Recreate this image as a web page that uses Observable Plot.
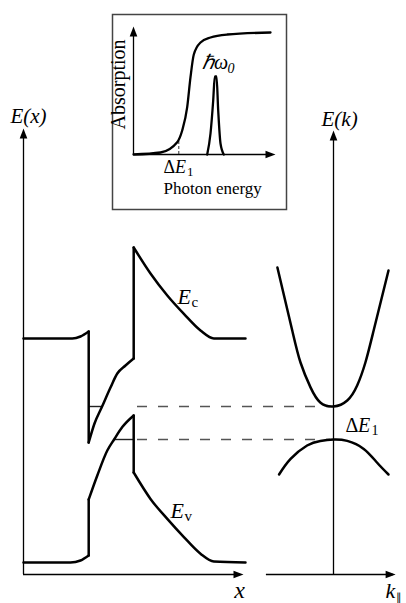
<!DOCTYPE html>
<html>
<head>
<meta charset="utf-8">
<script src="https://cdn.jsdelivr.net/npm/d3@7"></script>
<script src="https://cdn.jsdelivr.net/npm/@observablehq/plot@0.6"></script>
<style>
  html, body { margin: 0; padding: 0; background: #fff; }
  #fig { position: relative; width: 406px; height: 603px; overflow: hidden; background: #fff; }
  #fig svg { position: absolute; }
  #fig svg text { font-family: "Liberation Serif", "Times New Roman", serif; }
</style>
</head>
<body>
<div id="fig"></div>
<script>
// ---- Real-space band edges across the structure (position, energy in eV) ----
// Each band is split into smooth parts; consecutive parts are joined by abrupt steps.
const ecPos  = [0, 24.4, 28.5, 32.6,   32.6, 35.5, 39.3, 43.5, 46.9, 51, 55.1,   55.1, 63.5, 71.9, 80.2, 88.5, 95.2, 111];
const ecE    = [1.12, 1.12, 1.13, 1.155,   0.60, 0.695, 0.78, 0.875, 0.945, 0.985, 1.02,   1.575, 1.445, 1.335, 1.243, 1.16, 1.12, 1.12];
const ecPart = [0, 0, 0, 0,   1, 1, 1, 1, 1, 1, 1,   2, 2, 2, 2, 2, 2, 2];

const evPos  = [0, 23.5, 28.5, 32.6,   32.6, 36.9, 41.9, 45.3, 49.4, 55.1,   55.1, 63.5, 71.9, 80.2, 88.5, 95.2, 111];
const evE    = [0, 0, 0.01, 0.035,   0.315, 0.435, 0.56, 0.615, 0.677, 0.735,   0.45, 0.318, 0.218, 0.127, 0.044, 0.005, 0];
const evPart = [0, 0, 0, 0,   1, 1, 1, 1, 1, 1,   2, 2, 2, 2, 2, 2, 2];

// Confined levels: electron level in the left well, hole level in the right well
const levelE       = [0.78, 0.615];
const levelFromPos = [32.6, 45.3];
const levelToPos   = [39.3, 55.1];
const levelDashFrom = 57;     // dashed continuation towards the E(k) axis
const levelDashTo   = 153.5;

// ---- Dispersion near the zone centre (k, energy in eV) ----
const cbK = [-1.02, -0.75, -0.6, -0.42, -0.24, 0, 0.25, 0.43, 0.58, 0.73, 1.0];
const cbE = [1.475, 1.16, 1.0, 0.877, 0.80, 0.78, 0.81, 0.885, 1.0, 1.16, 1.46];
const vbK = [-0.99, -0.78, -0.48, -0.24, 0, 0.25, 0.55, 0.79, 1.0];
const vbE = [0.44, 0.518, 0.585, 0.608, 0.615, 0.608, 0.568, 0.50, 0.44];

// ---- Absorption spectrum and emission line (relative photon energy, relative level) ----
const absEnergy = [0, 0.27, 0.437, 0.487, 0.537, 0.57, 0.603, 0.67, 0.77, 0.937, 1.37];
const absLevel  = [0, 0.02, 0.123, 0.24, 0.473, 0.773, 1.0, 1.12, 1.17, 1.2, 1.22];
const peakEnergy = [0.737, 0.77, 0.797, 0.813, 0.83, 0.847, 0.87, 0.903];
const peakLevel  = [0, 0.21, 0.54, 0.78, 0.78, 0.44, 0.11, 0];
const gapEnergy = 0.453;   // ΔE1 marked on the spectrum
const gapLevel  = 0.15;

// Axis extents (data units)
const posAxisEnd = 110, eAxisBottom = -0.06, eAxisTopLeft = 2.17, eAxisTopRight = 2.16;
const kAxisStart = -1.22, kAxisEnd = 1.13;
const specAxisEnd = 1.42, absAxisTop = 1.28;

// Filled arrowheads (tip at the anchor point)
const arrowUp = { draw(c) { c.moveTo(0, 0); c.lineTo(-3.8, 10); c.lineTo(3.8, 10); c.closePath(); } };
const arrowRight = { draw(c) { c.moveTo(0, 0); c.lineTo(-10, -3.8); c.lineTo(-10, 3.8); c.closePath(); } };

const serif = '"Liberation Serif", "Times New Roman", serif';
const bandStroke = 2.5, axisStroke = 1.3;

function bandRows(pos, en, part) {
  const pts = pos.map((x, i) => ({x, e: en[i], seg: "p" + part[i]}));
  const steps = [];
  for (let i = 1; i < pts.length; i++) {
    if (pts[i].seg !== pts[i - 1].seg) {
      steps.push({x: pts[i - 1].x, e: pts[i - 1].e, seg: "s" + i}, {x: pts[i].x, e: pts[i].e, seg: "s" + i});
    }
  }
  return pts.concat(steps);
}

const ecRows = bandRows(ecPos, ecE, ecPart);
const evRows = bandRows(evPos, evE, evPart);
const levels = levelE.map((e, i) => ({e, from: levelFromPos[i], to: levelToPos[i]}));
const cbRows = cbK.map((k, i) => ({k, e: cbE[i]}));
const vbRows = vbK.map((k, i) => ({k, e: vbE[i]}));
const absRows = absEnergy.map((x, i) => ({x, a: absLevel[i]}));
const peakRows = peakEnergy.map((x, i) => ({x, a: peakLevel[i]}));

const txt = (text, o) => Plot.text([text], {text: d => d, fontFamily: serif, fill: "black", lineAnchor: "bottom", ...o});

const common = {
  width: 406, height: 603,
  marginTop: 0, marginRight: 0, marginBottom: 0, marginLeft: 0,
  style: {background: "transparent", overflow: "visible"}
};
const energyScale = {domain: [0, 1], range: [562, 362], axis: null};

// E(x): band profile
const left = Plot.plot({
  ...common,
  x: {domain: [0, 100], range: [23, 223], axis: null},
  y: energyScale,
  marks: [
    Plot.ruleX([0], {y1: eAxisBottom, y2: eAxisTopLeft - 0.02, stroke: "black", strokeWidth: axisStroke}),
    Plot.ruleY([eAxisBottom], {x1: 0, x2: posAxisEnd - 2, stroke: "black", strokeWidth: axisStroke}),
    Plot.dot([[0, eAxisTopLeft]], {x: d => d[0], y: d => d[1], symbol: arrowUp, fill: "black", stroke: "none"}),
    Plot.dot([[posAxisEnd, eAxisBottom]], {x: d => d[0], y: d => d[1], symbol: arrowRight, fill: "black", stroke: "none"}),
    Plot.ruleY(levels, {y: "e", x1: "from", x2: "to", stroke: "#222", strokeWidth: 1.4}),
    Plot.ruleY(levels, {y: "e", x1: levelDashFrom, x2: levelDashTo, stroke: "#555", strokeWidth: 1.4, strokeDasharray: "10,11"}),
    Plot.line(ecRows, {x: "x", y: "e", z: "seg", curve: "monotone-x", stroke: "black", strokeWidth: bandStroke}),
    Plot.line(evRows, {x: "x", y: "e", z: "seg", curve: "monotone-x", stroke: "black", strokeWidth: bandStroke}),
    txt("E(x)", {x: 2.5, y: 2.2, fontSize: 21, fontStyle: "italic", textAnchor: "middle"}),
    txt("E", {x: 77, y: 1.295, fontSize: 22, fontStyle: "italic", textAnchor: "start"}),
    txt("c", {x: 77, y: 1.295, dx: 14, dy: 3, fontSize: 15, textAnchor: "start"}),
    txt("E", {x: 73.5, y: 0.225, fontSize: 22, fontStyle: "italic", textAnchor: "start"}),
    txt("v", {x: 73.5, y: 0.225, dx: 14, dy: 3, fontSize: 15, textAnchor: "start"}),
    txt("x", {x: 108, y: -0.175, fontSize: 24, fontStyle: "italic", textAnchor: "middle"})
  ]
});

// E(k): dispersion
const right = Plot.plot({
  ...common,
  x: {domain: [-1, 1], range: [278, 388], axis: null},
  y: energyScale,
  marks: [
    Plot.ruleX([0], {y1: eAxisBottom, y2: eAxisTopRight - 0.02, stroke: "black", strokeWidth: axisStroke}),
    Plot.ruleY([eAxisBottom], {x1: kAxisStart, x2: kAxisEnd - 0.04, stroke: "black", strokeWidth: axisStroke}),
    Plot.dot([[0, eAxisTopRight]], {x: d => d[0], y: d => d[1], symbol: arrowUp, fill: "black", stroke: "none"}),
    Plot.dot([[kAxisEnd, eAxisBottom]], {x: d => d[0], y: d => d[1], symbol: arrowRight, fill: "black", stroke: "none"}),
    Plot.line(cbRows, {x: "k", y: "e", curve: "natural", stroke: "black", strokeWidth: bandStroke}),
    Plot.line(vbRows, {x: "k", y: "e", curve: "natural", stroke: "black", strokeWidth: bandStroke}),
    txt("E(k)", {x: 0.11, y: 2.185, fontSize: 21, fontStyle: "italic", textAnchor: "middle"}),
    txt("Δ", {x: 0.22, y: 0.655, fontSize: 20, textAnchor: "start"}),
    txt("E", {x: 0.22, y: 0.655, dx: 12.5, fontSize: 20, fontStyle: "italic", textAnchor: "start"}),
    txt("1", {x: 0.22, y: 0.655, dx: 26, dy: 3, fontSize: 14, textAnchor: "start"}),
    txt("k", {x: 0.945, y: -0.175, fontSize: 22, fontStyle: "italic", textAnchor: "start"}),
    txt("∥", {x: 0.945, y: -0.175, dx: 11, dy: 3, fontSize: 11, textAnchor: "start"})
  ]
});

// Inset: absorption spectrum
const inset = Plot.plot({
  width: 176, height: 197,
  marginTop: 1, marginRight: 1, marginBottom: 1, marginLeft: 1,
  style: {background: "#fff", overflow: "visible"},
  x: {domain: [0, 1], range: [22, 122], axis: null},
  y: {domain: [0, 1], range: [141, 41], axis: null},
  marks: [
    Plot.frame({stroke: "#444", strokeWidth: 1.5}),
    Plot.ruleX([0], {y1: 0, y2: absAxisTop - 0.05, stroke: "black", strokeWidth: axisStroke}),
    Plot.ruleY([0], {x1: 0, x2: specAxisEnd - 0.05, stroke: "black", strokeWidth: axisStroke}),
    Plot.dot([[0, absAxisTop]], {x: d => d[0], y: d => d[1], symbol: arrowUp, fill: "black", stroke: "none"}),
    Plot.dot([[specAxisEnd, 0]], {x: d => d[0], y: d => d[1], symbol: arrowRight, fill: "black", stroke: "none"}),
    Plot.ruleX([gapEnergy], {y1: 0, y2: gapLevel, stroke: "#333", strokeWidth: 1, strokeDasharray: "3,2"}),
    Plot.line(absRows, {x: "x", y: "a", curve: "monotone-x", stroke: "black", strokeWidth: 2.3}),
    Plot.line(peakRows, {x: "x", y: "a", curve: "monotone-x", stroke: "black", strokeWidth: 2.3}),
    txt("Absorption", {x: -0.145, y: 0.7, fontSize: 20, rotate: -90, textAnchor: "middle", lineAnchor: "middle"}),
    txt("Δ", {x: 0.30, y: -0.18, fontSize: 18, textAnchor: "start"}),
    txt("E", {x: 0.30, y: -0.18, dx: 11.5, fontSize: 18, fontStyle: "italic", textAnchor: "start"}),
    txt("1", {x: 0.30, y: -0.18, dx: 23.5, dy: 3, fontSize: 13, textAnchor: "start"}),
    txt("Photon energy", {x: 0.30, y: -0.39, fontSize: 17, textAnchor: "start"}),
    txt("ℏω", {x: 0.685, y: 0.86, fontSize: 20, fontStyle: "italic", textAnchor: "start"}),
    txt("0", {x: 0.685, y: 0.86, dx: 25.5, dy: 4, fontSize: 14, fontStyle: "italic", textAnchor: "start"})
  ]
});

const fig = document.getElementById("fig");
left.style.left = "0px"; left.style.top = "0px";
right.style.left = "0px"; right.style.top = "0px";
inset.style.left = "111px"; inset.style.top = "13px";
fig.append(left, right, inset);
</script>
</body>
</html>
